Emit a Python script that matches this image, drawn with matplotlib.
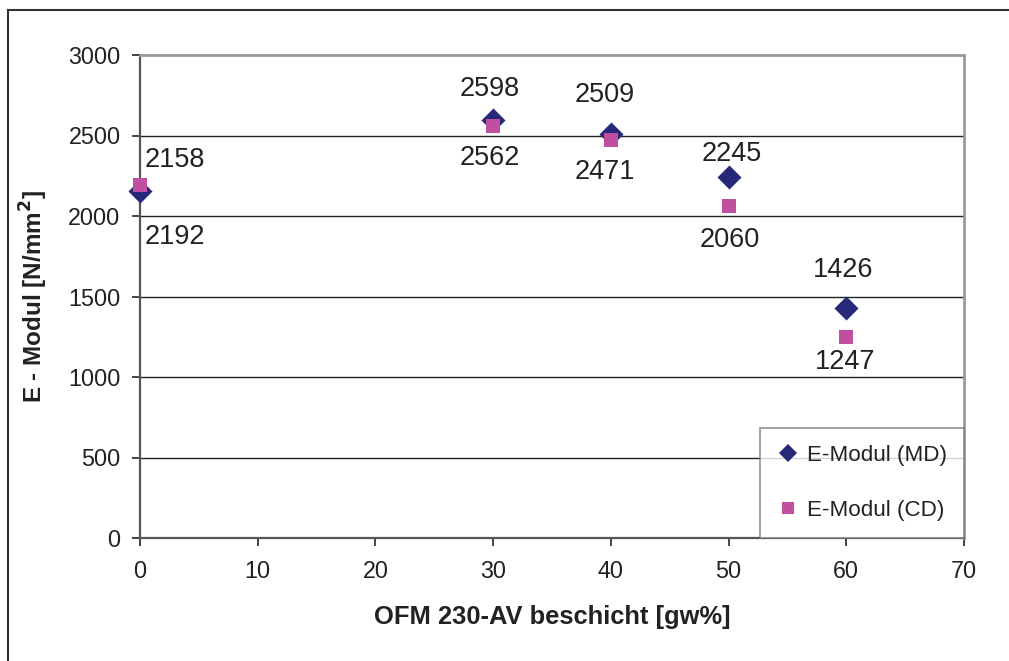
import matplotlib
matplotlib.use("Agg")
import matplotlib.pyplot as plt
from matplotlib.lines import Line2D

plt.rcParams['font.family'] = ['Liberation Sans', 'DejaVu Sans']

# Coating share in gw% and modulus values
coating = [0, 30, 40, 50, 60]
modulus_md = [2158, 2598, 2509, 2245, 1426]
modulus_cd = [2192, 2562, 2471, 2060, 1247]

x_ticks = [0, 10, 20, 30, 40, 50, 60, 70]
y_ticks = [0, 500, 1000, 1500, 2000, 2500, 3000]

md_color = '#262878'
cd_color = '#c0509f'

W, H = 1009, 661
fig = plt.figure(figsize=(W / 100, H / 100), dpi=100)
ax = fig.add_axes([140 / W, 1 - 538 / H, 824 / W, 483 / H])

ax.set_xlim(0, 70)
ax.set_ylim(0, 3000)
ax.set_xticks(x_ticks)
ax.set_yticks(y_ticks)
ax.tick_params(axis='both', labelsize=16.8, colors='#222222', length=6,
               width=1.2, direction='out', pad=8)
ax.tick_params(axis='x', pad=10)

# horizontal grid
for yv in y_ticks[1:-1]:
    ax.axhline(yv, color='#222222', lw=1.0, zorder=1)

for side in ['top', 'right']:
    ax.spines[side].set_color('#9a9a9a')
    ax.spines[side].set_linewidth(2.0)
for side in ['left', 'bottom']:
    ax.spines[side].set_color('#555555')
    ax.spines[side].set_linewidth(1.6)

ax.scatter(coating, modulus_md, marker='D', s=150, color=md_color,
           zorder=3, clip_on=False, linewidths=0)
ax.scatter(coating, modulus_cd, marker='s', s=90, color=cd_color,
           zorder=4, clip_on=False, linewidths=0)

# value labels: MD above, CD below (offsets in pixels)
md_offsets = [(5, 31), (-3, 31), (-6, 39), (3, 23), (-3, 38)]
cd_offsets = [(5, -52), (-3, -32), (-6, -32), (1, -34), (-1, -25)]
px = 0.72
for xv, yv, (dx, dy) in zip(coating, modulus_md, md_offsets):
    ha = 'left' if xv == 0 else 'center'
    ax.annotate(f'{yv}', (xv, yv), xytext=(dx * px, dy * px),
                textcoords='offset points', ha=ha, va='center',
                fontsize=19.5, color='#222222', zorder=5)
for xv, yv, (dx, dy) in zip(coating, modulus_cd, cd_offsets):
    ha = 'left' if xv == 0 else 'center'
    ax.annotate(f'{yv}', (xv, yv), xytext=(dx * px, dy * px),
                textcoords='offset points', ha=ha, va='center',
                fontsize=19.5, color='#222222', zorder=5)

ax.set_xlabel('OFM 230-AV beschicht [gw%]', fontsize=18.4, fontweight='bold',
              color='#222222', labelpad=16)
ax.set_ylabel('E - Modul [N/mm$^\\mathbf{2}$]', fontsize=17.5, fontweight='bold',
              color='#222222', labelpad=13)

handles = [
    Line2D([], [], marker='D', ls='none', color=md_color, markersize=9.5,
           markeredgewidth=0, label='E-Modul (MD)'),
    Line2D([], [], marker='s', ls='none', color=cd_color, markersize=9,
           markeredgewidth=0, label='E-Modul (CD)'),
]
leg = ax.legend(handles=handles, loc='lower right', fontsize=16.1,
                frameon=True, fancybox=False, borderaxespad=0,
                handlelength=1.0, handletextpad=0.35, labelspacing=1.55,
                borderpad=0.75, bbox_to_anchor=(1.0, 0.0))
leg.get_frame().set_edgecolor('#777777')
leg.get_frame().set_linewidth(1.2)
for t in leg.get_texts():
    t.set_color('#222222')

# outer chart frame
fig.add_artist(Line2D([8 / W, 1.0], [1 - 10 / H, 1 - 10 / H],
                      transform=fig.transFigure, color='#333333', lw=1.5))
fig.add_artist(Line2D([8 / W, 8 / W], [0, 1 - 10 / H],
                      transform=fig.transFigure, color='#333333', lw=1.5))

fig.savefig('out.png', dpi=100, facecolor='white')
